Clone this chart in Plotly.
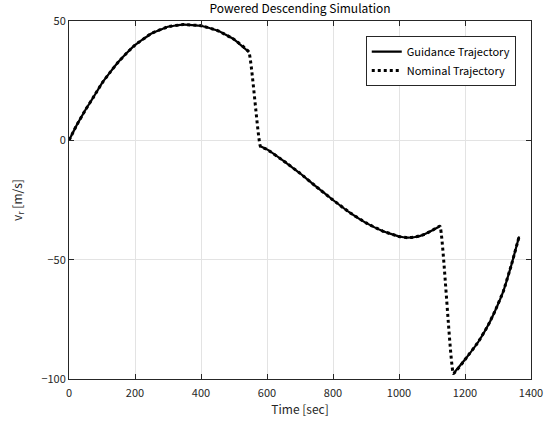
import plotly.graph_objects as go

# Guidance trajectory segments (solid), gaps at the jumps
guid_t = [0, 25, 50, 75, 100, 125, 150, 175, 200, 250, 300, 346, 400, 450, 500, 545, None,
          580, 600, 650, 700, 750, 800, 850, 900, 950, 1000, 1025, 1050, 1075, 1100, 1124, None,
          1165, 1202, 1240, 1270, 1291, 1316, 1341, 1364]
guid_v = [0, 6.8, 12.8, 18.3, 24.0, 28.6, 32.9, 36.6, 39.9, 44.8, 47.6, 48.5, 48.0, 46.0, 42.3, 37.0, None,
          -2.5, -3.8, -8.6, -13.8, -19.5, -25.0, -30.2, -34.6, -38.0, -40.3, -40.8, -40.5, -39.5, -37.8, -36.0, None,
          -97.7, -91.5, -84.5, -77.5, -71.5, -63.3, -52.0, -40.3]

# Nominal trajectory (dotted), continuous through the jumps
nom_t = [0, 25, 50, 75, 100, 125, 150, 175, 200, 250, 300, 346, 400, 450, 500, 545,
         580, 600, 650, 700, 750, 800, 850, 900, 950, 1000, 1025, 1050, 1075, 1100, 1124,
         1165, 1202, 1240, 1270, 1291, 1316, 1341, 1364]
nom_v = [0, 6.8, 12.8, 18.3, 24.0, 28.6, 32.9, 36.6, 39.9, 44.8, 47.6, 48.5, 48.0, 46.0, 42.3, 37.0,
         -2.5, -3.8, -8.6, -13.8, -19.5, -25.0, -30.2, -34.6, -38.0, -40.3, -40.8, -40.5, -39.5, -37.8, -36.0,
         -97.7, -91.5, -84.5, -77.5, -71.5, -63.3, -52.0, -40.3]

x_ticks = [0, 200, 400, 600, 800, 1000, 1200, 1400]
y_ticks = [50, 0, -50, -100]

FONT = "Noto Sans CJK JP"
AX = "#262626"

fig = go.Figure()
fig.add_trace(go.Scatter(x=guid_t, y=guid_v, mode="lines", name="Guidance Trajectory",
                         line=dict(color="black", width=2.2, shape="spline", smoothing=0.3),
                         connectgaps=False))
fig.add_trace(go.Scatter(x=nom_t, y=nom_v, mode="lines", name="Nominal Trajectory",
                         line=dict(color="black", width=3, dash="dot", shape="spline", smoothing=0.3)))

axis_common = dict(showline=True, linecolor=AX, linewidth=1, mirror="ticks",
                   ticks="inside", ticklen=5, tickcolor=AX,
                   showgrid=True, gridcolor="#e3e3e3", gridwidth=1, zeroline=False,
                   tickfont=dict(family=FONT, size=11, color=AX))

fig.update_xaxes(range=[0, 1400], tickvals=x_ticks, ticklabelstandoff=4,
                 title=dict(text="Time [sec]", font=dict(family=FONT, size=12, color=AX), standoff=2),
                 **axis_common)
fig.update_yaxes(range=[-100, 50], tickvals=y_ticks,
                 title=dict(text="v<sub>r</sub> [m/s]", font=dict(family=FONT, size=12, color=AX), standoff=16),
                 **axis_common)

fig.update_layout(
    width=555, height=423,
    margin=dict(l=69, r=23, t=17, b=40),
    paper_bgcolor="white", plot_bgcolor="white",
    title=dict(text="Powered Descending Simulation", x=0.5, xref="paper", y=0.988, yanchor="top",
               font=dict(family=FONT, size=12, color="black")),
    legend=dict(x=0.967, y=0.958, xanchor="right", yanchor="top",
                bgcolor="white", bordercolor=AX, borderwidth=1,
                font=dict(family=FONT, size=11, color="black"),
                itemwidth=30, tracegroupgap=0),
    showlegend=True,
)

fig.write_html("out.html")
